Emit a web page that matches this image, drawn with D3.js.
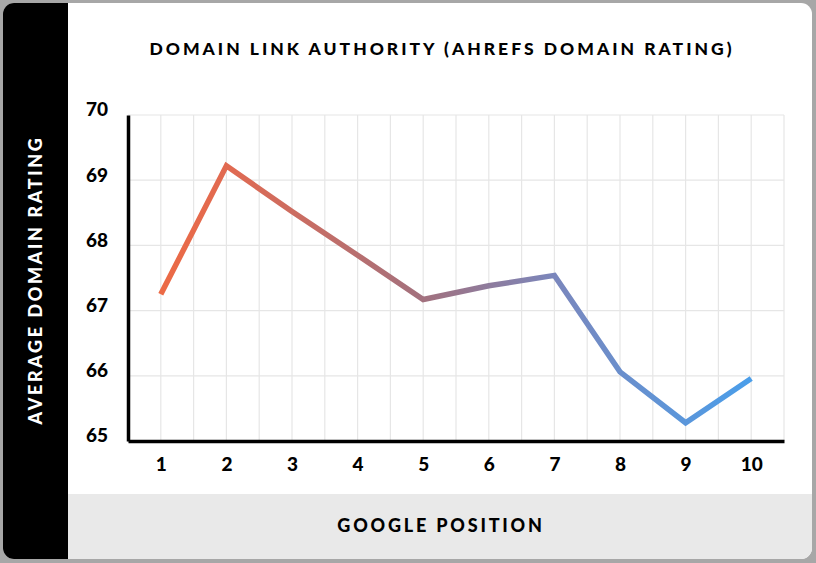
<!DOCTYPE html>
<html><head><meta charset="utf-8">
<script src="https://cdn.jsdelivr.net/npm/d3@7"></script>
<style>
html,body{margin:0;padding:0;background:#a7a7a7;}
svg{display:block;}
text{font-family:Lato,"Open Sans",sans-serif;font-weight:900;}
</style></head>
<body>
<svg id="c" width="816" height="563"></svg>
<script>
const positions = [1,2,3,4,5,6,7,8,9,10];
const domainRating = [67.25, 69.22, 68.52, 67.85, 67.17, 67.38, 67.54, 66.06, 65.28, 65.96];
const yTicks = [65,66,67,68,69,70];
const chartTitle = "DOMAIN LINK AUTHORITY (AHREFS DOMAIN RATING)";
const xTitle = "GOOGLE POSITION";
const yTitle = "AVERAGE DOMAIN RATING";

const svg = d3.select("#c");
const card = {x:3, y:3, w:809, h:556, r:11};

const defs = svg.append("defs");
defs.append("clipPath").attr("id","cardClip").append("rect")
  .attr("x",card.x).attr("y",card.y).attr("width",card.w).attr("height",card.h).attr("rx",card.r);

const g0 = svg.append("g").attr("clip-path","url(#cardClip)");
g0.append("rect").attr("x",card.x).attr("y",card.y).attr("width",card.w).attr("height",card.h).attr("fill","#fff");
g0.append("rect").attr("x",card.x).attr("y",card.y).attr("width",65).attr("height",card.h).attr("fill","#000");
g0.append("rect").attr("x",68).attr("y",494).attr("width",card.w).attr("height",70).attr("fill","#e9e9e9");

const x = d3.scaleLinear().domain([0.5,10.5]).range([128,784]);
const y = d3.scaleLinear().domain([65,70]).range([441,115]);

// grid
const gridX = d3.range(1,21).map(i=>0.5+i*0.5);
svg.append("g").selectAll("line").data(gridX).join("line")
  .attr("x1",d=>x(d)).attr("x2",d=>x(d)).attr("y1",y(70)).attr("y2",y(65))
  .attr("stroke","#e6e6e6").attr("stroke-width",1.2);
svg.append("g").selectAll("line").data(yTicks.filter(d=>d>65)).join("line")
  .attr("x1",x(0.5)).attr("x2",x(10.5)).attr("y1",d=>y(d)).attr("y2",d=>y(d))
  .attr("stroke","#e6e6e6").attr("stroke-width",1.2);

// axes
const yAxis = d3.axisLeft(y).tickValues(yTicks).tickSize(0).tickPadding(20).tickFormat(d3.format("d"));
const ya = svg.append("g").attr("transform",`translate(${x(0.5)},0)`).call(yAxis);
ya.select(".domain").attr("stroke","#000").attr("stroke-width",3.5);
ya.selectAll("text").attr("font-size",19).attr("fill","#000").attr("dy","0.05em");

const xAxis = d3.axisBottom(x).tickValues(positions).tickSize(0).tickPadding(17).tickFormat(d3.format("d"));
const xa = svg.append("g").attr("transform",`translate(0,${y(65)})`).call(xAxis);
xa.select(".domain").attr("stroke","#000").attr("stroke-width",3.5);
xa.selectAll("text").attr("font-size",19).attr("fill","#000");

// gradient
const grad = defs.append("linearGradient").attr("id","lg").attr("gradientUnits","userSpaceOnUse")
  .attr("x1",x(1)).attr("x2",x(10)).attr("y1",0).attr("y2",0);
[[0,"#ec6a45"],[0.12,"#e06a52"],[0.45,"#a1717f"],[0.67,"#7a87bd"],[1,"#4a9eea"]].forEach(s=>
  grad.append("stop").attr("offset",s[0]).attr("stop-color",s[1]));

const line = d3.line().x((d,i)=>x(positions[i])).y(d=>y(d));
svg.append("path").datum(domainRating).attr("d",line).attr("fill","none")
  .attr("stroke","url(#lg)").attr("stroke-width",5.5).attr("stroke-linejoin","miter").attr("stroke-linecap","butt");

// titles
svg.append("text").attr("x",442).attr("y",55).attr("text-anchor","middle")
  .attr("font-size",17.5).attr("letter-spacing",3).attr("fill","#000").text(chartTitle);
svg.append("text").attr("x",441).attr("y",532).attr("text-anchor","middle")
  .attr("font-size",18).attr("letter-spacing",2.8).attr("fill","#000").text(xTitle);
svg.append("text").attr("transform","translate(42,280) rotate(-90)").attr("text-anchor","middle")
  .attr("font-size",18).attr("letter-spacing",2.6).attr("fill","#fff").text(yTitle);
</script>
</body></html>
